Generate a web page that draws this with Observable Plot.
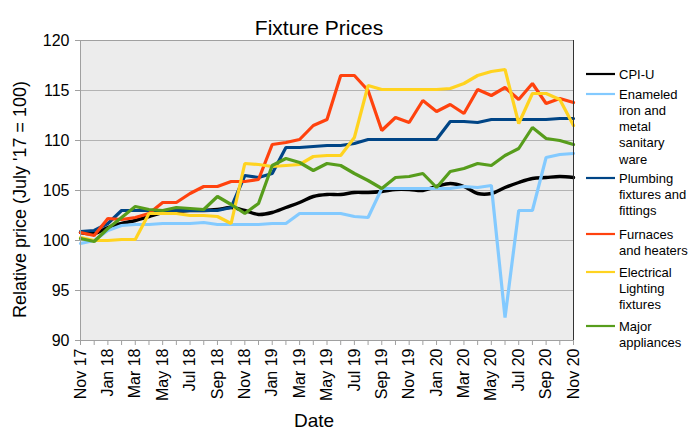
<!DOCTYPE html>
<html><head><meta charset="utf-8">
<script src="https://cdn.jsdelivr.net/npm/d3@7"></script>
<script src="https://cdn.jsdelivr.net/npm/@observablehq/plot@0.6"></script>
<style>
body{margin:0;background:#fff;}
#chart{width:696px;height:435px;}
</style>
</head><body><div id="chart"></div>
<script>
const months = ["Nov 17","Dec 17","Jan 18","Feb 18","Mar 18","Apr 18","May 18","Jun 18","Jul 18","Aug 18","Sep 18","Oct 18",
  "Nov 18","Dec 18","Jan 19","Feb 19","Mar 19","Apr 19","May 19","Jun 19","Jul 19","Aug 19","Sep 19","Oct 19",
  "Nov 19","Dec 19","Jan 20","Feb 20","Mar 20","Apr 20","May 20","Jun 20","Jul 20","Aug 20","Sep 20","Oct 20","Nov 20"];

const cpiU = [100.8,100.7,101.3,101.7,102.0,102.4,102.8,102.9,103.0,103.0,103.1,103.3,103.0,102.6,102.8,103.3,103.8,104.4,104.6,104.6,104.8,104.8,104.9,105.1,105.1,105.0,105.4,105.7,105.4,104.7,104.7,105.3,105.8,106.2,106.3,106.4,106.3];
const enameled = [99.7,100.0,101.0,101.5,101.6,101.6,101.7,101.7,101.7,101.8,101.6,101.6,101.6,101.6,101.7,101.7,102.7,102.7,102.7,102.7,102.4,102.3,105.2,105.2,105.2,105.2,105.2,105.2,105.4,105.3,105.5,92.3,103.0,103.0,108.3,108.6,108.7];
const plumbing = [100.9,101.0,101.7,103.0,103.0,103.0,103.0,103.0,103.0,103.0,103.0,103.3,106.5,106.3,106.7,109.3,109.3,109.4,109.5,109.5,109.7,110.1,110.1,110.1,110.1,110.1,110.1,111.9,111.9,111.8,112.1,112.1,112.1,112.1,112.1,112.2,112.2];
const furnaces = [100.8,100.5,102.2,102.1,102.3,102.7,103.8,103.8,104.7,105.4,105.4,105.9,105.9,106.1,109.6,109.8,110.1,111.5,112.1,116.5,116.5,115.0,111.0,112.3,111.8,114.0,112.9,113.6,112.7,115.1,114.5,115.3,114.1,115.7,113.7,114.2,113.8];
const lighting = [100.3,100.0,100.0,100.1,100.1,102.7,102.7,102.7,102.5,102.5,102.4,101.7,107.7,107.6,107.4,107.5,107.6,108.4,108.5,108.5,110.3,115.5,115.1,115.1,115.1,115.1,115.1,115.2,115.7,116.5,116.9,117.1,111.7,114.7,114.7,114.1,111.5];
const appliances = [100.2,99.9,101.2,102.3,103.4,103.1,103.0,103.3,103.2,103.1,104.4,103.6,102.7,103.7,107.5,108.2,107.8,107.0,107.7,107.5,106.7,106.0,105.2,106.3,106.4,106.7,105.3,106.9,107.2,107.7,107.5,108.5,109.2,111.3,110.2,110.0,109.6];

const seriesNames = ["CPI-U","Enameled iron and metal sanitary ware","Plumbing fixtures and fittings","Furnaces and heaters","Electrical Lighting fixtures","Major appliances"];
const legendLines = [["CPI-U"],["Enameled","iron and","metal","sanitary","ware"],["Plumbing","fixtures and","fittings"],["Furnaces","and heaters"],["Electrical","Lighting","fixtures"],["Major","appliances"]];
const seriesColors = ["#000000","#83caff","#004586","#ff420e","#ffd320","#579d1c"];
const seriesValues = [cpiU, enameled, plumbing, furnaces, lighting, appliances];
const yTicks = [90,95,100,105,110,115,120];

const rows = [];
seriesValues.forEach((vals, s) => vals.forEach((v, i) => rows.push({series: seriesNames[s], idx: i, value: v, color: seriesColors[s]})));
const cpiRows = rows.filter(r => r.series === "CPI-U");
const otherRows = rows.filter(r => r.series !== "CPI-U");
const monthIdx = months.map((m, i) => i);

const font = "'Liberation Sans', Arial, sans-serif";
const plot = Plot.plot({
  width: 696, height: 435,
  marginLeft: 80, marginRight: 123, marginTop: 40, marginBottom: 95,
  style: {fontFamily: font, fontSize: "15px", background: "#ffffff", color: "#000"},
  x: {type: "linear", domain: [0, months.length - 1], label: null},
  y: {domain: [90, 120], label: null},
  marks: [
    Plot.frame({fill: "#ececec"}),
    Plot.gridY(yTicks.slice(1, -1), {stroke: "#b3b3b3", strokeOpacity: 1, strokeWidth: 1}),
    Plot.axisY({ticks: yTicks, tickSize: 5, tickPadding: 6, stroke: "#a0a0a0", fontSize: 16, label: null}),
    Plot.axisX({ticks: monthIdx, tickSize: 5, tickPadding: 3, tickRotate: -90, stroke: "#a0a0a0", fontSize: 16, label: null,
      tickFormat: i => i % 2 === 0 ? months[i] : ""}),
    Plot.line(cpiRows, {x: "idx", y: "value", stroke: "color", strokeWidth: 3.4, curve: "catmull-rom"}),
    Plot.line(otherRows, {x: "idx", y: "value", z: "series", stroke: "color", strokeWidth: 3.2, strokeLinejoin: "miter"}),
    Plot.frame({stroke: "#a0a0a0"}),
    Plot.ruleX([months.length - 1], {stroke: "#333", strokeWidth: 1}),
    Plot.text(["Fixture Prices"], {frameAnchor: "top", dy: -20, dx: -8, fontSize: 21}),
    Plot.text(["Date"], {frameAnchor: "bottom", dy: 86, dx: -13, fontSize: 19}),
    Plot.text(["Relative price (July '17 = 100)"], {frameAnchor: "left", textAnchor: "middle", rotate: -90, dx: -60, dy: 9, fontSize: 18})
  ]
});
document.getElementById("chart").appendChild(plot);

// legend
const svg = d3.select(plot);
const entryY = [74, 94, 178, 234, 272, 326];
const lineH = 16.3;
const lg = svg.append("g").attr("font-family", font).attr("font-size", 13).attr("text-anchor", "start");
legendLines.forEach((lines, k) => {
  const y0 = entryY[k];
  lg.append("line").attr("x1", 586).attr("x2", 615).attr("y1", y0).attr("y2", y0)
    .attr("stroke", seriesColors[k]).attr("stroke-width", 2.2);
  lines.forEach((t, j) => {
    lg.append("text").attr("x", 619).attr("y", y0 + j * lineH).attr("dy", "0.35em").attr("fill", "#000").text(t);
  });
});
</script>
</body></html>
